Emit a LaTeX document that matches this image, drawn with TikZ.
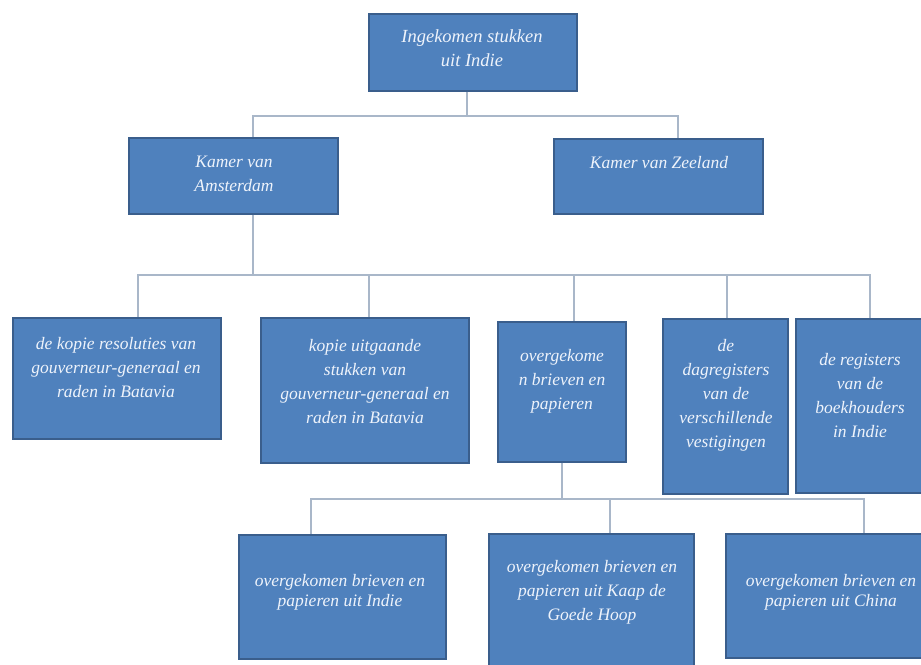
\documentclass[tikz,border=0pt]{standalone}
\usepackage{fontspec}
\setmainfont{Liberation Serif}
\begin{document}
\begin{tikzpicture}[x=1pt,y=-1pt,
  box/.style={draw=boxedge,line width=1.6pt,fill=boxfill,inner sep=0pt,anchor=north west},
  txt/.style={text=txtcol,font=\itshape\fontsize{17.5}{24}\selectfont,align=center,inner sep=0pt},
  tight/.style={font=\itshape\fontsize{17.5}{20}\selectfont},
  conn/.style={draw=conncol,line width=1.8pt}]
\definecolor{boxfill}{HTML}{4F81BD}
\definecolor{boxedge}{HTML}{3A5E8C}
\definecolor{txtcol}{HTML}{EEF3FB}
\definecolor{conncol}{HTML}{A9B7C9}
\useasboundingbox (0,0) rectangle (921,664);
\clip (0,0) rectangle (921,664);
% boxes
\node[box,minimum width=208pt,minimum height=77pt] (top) at (368,13) {};
\node[box,minimum width=209pt,minimum height=76pt] (ams) at (128,137) {};
\node[box,minimum width=209pt,minimum height=75pt] (zee) at (553,138) {};
\node[box,minimum width=208pt,minimum height=121pt] (b1) at (12,317) {};
\node[box,minimum width=208pt,minimum height=145pt] (b2) at (260,317) {};
\node[box,minimum width=128pt,minimum height=140pt] (b3) at (497,321) {};
\node[box,minimum width=125pt,minimum height=175pt] (b4) at (662,318) {};
\node[box,minimum width=135pt,minimum height=174pt] (b5) at (795,318) {};
\node[box,minimum width=207pt,minimum height=124pt] (c1) at (238,534) {};
\node[box,minimum width=205pt,minimum height=140pt] (c2) at (488,533) {};
\node[box,minimum width=215pt,minimum height=124pt] (c3) at (725,533) {};
% texts
\node[txt,font=\itshape\fontsize{18.5}{24}\selectfont] (ttop) at (472,48) {Ingekomen stukken\\uit Indie};
\node[txt] (tams) at (234,174) {Kamer van\\Amsterdam};
\node[txt] (tzee) at (659,163) {Kamer van Zeeland};
\node[txt] (tb1) at (116,368) {de kopie resoluties van\\gouverneur-generaal en\\raden in Batavia};
\node[txt] (tb2) at (365,382) {kopie uitgaande\\stukken van\\gouverneur-generaal en\\raden in Batavia};
\node[txt] (tb3) at (562,381) {overgekome\\n brieven en\\papieren};
\node[txt] (tb4) at (726,395) {de\\dagregisters\\van de\\verschillende\\vestigingen};
\node[txt] (tb5) at (860,396) {de registers\\van de\\boekhouders\\in Indie};
\node[txt,tight] (tc1) at (340,592) {overgekomen brieven en\\papieren uit Indie};
\node[txt] (tc2) at (592,592) {overgekomen brieven en\\papieren uit Kaap de\\Goede Hoop};
\node[txt,tight] (tc3) at (831,592) {overgekomen brieven en\\papieren uit China};
% junction coordinates
\coordinate (j0) at (467,116);
\coordinate (h1) at (253,116);
\coordinate (h2) at (678,116);
\coordinate (k0) at (253,275);
\coordinate (k1) at (138,275);
\coordinate (k2) at (369,275);
\coordinate (k3) at (574,275);
\coordinate (k4) at (727,275);
\coordinate (k5) at (870,275);
\coordinate (m0) at (562,499);
\coordinate (m1) at (311,499);
\coordinate (m2) at (610,499);
\coordinate (m3) at (864,499);
% connectors
\begin{scope}[on background layer/.style={}]
\draw[conn] (j0 |- top.south) -- (j0);
\draw[conn] (h1 |- ams.north) -- (h1) -- (h2) -- (h2 |- zee.north);
\draw[conn] (k0 |- ams.south) -- (k0);
\draw[conn] (k1 |- b1.north) -- (k1) -- (k5) -- (k5 |- b5.north);
\draw[conn] (k2) -- (k2 |- b2.north);
\draw[conn] (k3) -- (k3 |- b3.north);
\draw[conn] (k4) -- (k4 |- b4.north);
\draw[conn] (m0 |- b3.south) -- (m0);
\draw[conn] (m1 |- c1.north) -- (m1) -- (m3) -- (m3 |- c3.north);
\draw[conn] (m2) -- (m2 |- c2.north);
\end{scope}
\end{tikzpicture}
\end{document}
